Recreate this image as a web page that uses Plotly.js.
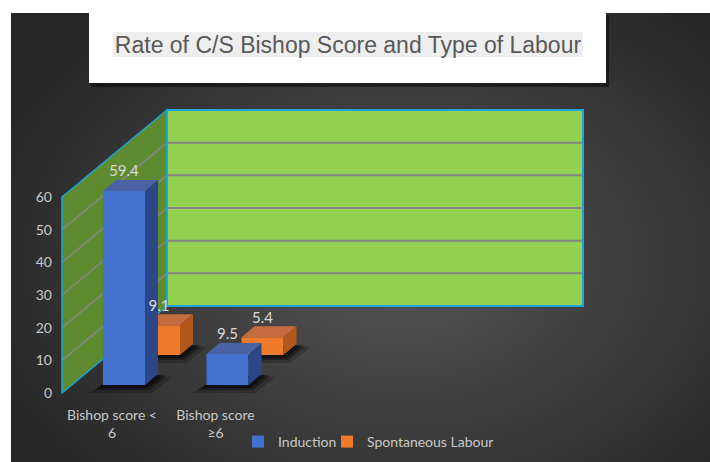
<!DOCTYPE html>
<html>
<head>
<meta charset="utf-8">
<script src="https://cdn.plot.ly/plotly-3.0.1.min.js"></script>
<style>
  html, body { margin: 0; padding: 0; background: #ffffff; }
  #wrap {
    width: 710px; height: 462px; position: relative;
    background-color: #ffffff;
    background-image: radial-gradient(ellipse 62% 70% at 56% 55%, #555555 0%, #3c3c3c 55%, #272727 100%);
    background-repeat: no-repeat;
    background-position: 11px 13px;
    background-size: 699px 449px;
  }
  #chart { width: 710px; height: 462px; }
</style>
</head>
<body>
<div id="wrap"><div id="chart"></div></div>
<script>
// ---------- data ----------
const categories = ['Bishop score <<br>6', 'Bishop score<br>≥6'];
const seriesNames = ['Induction', 'Spontaneous Labour'];
const induction = [59.4, 9.5];
const spontaneous = [9.1, 5.4];
const yTicks = [0, 10, 20, 30, 40, 50, 60];
const chartTitle = 'Rate of C/S Bishop Score and Type of Labour';

// ---------- geometry (pixel based x axis, value based y axis) ----------
const W = 710, H = 462, PLOT_BOTTOM = 400;
const K = 196 / 60;            // px per unit
const P0 = 393;                // pixel y of value 0 on the front plane
const v = p => (P0 - p) / K;   // pixel -> value units
const frontX = [124, 227.5];   // front-row bar centers
const ROW_DX = [0, 35];
const ROW_BASE = [v(385), v(355)];
const HW = 21, DDX = 13, DDY = 11 / K;
const WALL_X0 = 62, WALL_X1 = 167, WALL_X2 = 583, WALL_DY = 87 / K;
const YMAX_AXIS = 60;

const COLORS = {
  blue:   { front: '#4272cd', top: '#4b62a4', side: '#2c4787' },
  orange: { front: '#ee7b2b', top: '#c46c40', side: '#b2571c' }
};

function shadowTraces(vals, row) {
  const tr = [];
  const xs = frontX.map(x => x + ROW_DX[row]);
  const b = ROW_BASE[row];
  vals.forEach((val, i) => {
    const c = xs[i];
    [[14, 8, 'rgba(0,0,0,0.22)'], [9, 5, 'rgba(0,0,0,0.35)'], [5, 3, 'rgba(0,0,0,0.45)']].forEach(([ox, oy, fc]) => {
      const dy = oy / K;
      tr.push({
        type: 'scatter', mode: 'lines', xaxis: 'x', yaxis: 'y', hoverinfo: 'skip', showlegend: false,
        x: [c - HW - ox, c + HW + ox / 2, c + HW + DDX + ox, c - HW + DDX, c - HW - ox],
        y: [b - dy, b - dy, b + DDY - dy / 3, b + DDY - dy / 3, b - dy],
        fill: 'toself', fillcolor: fc, line: { width: 0 }
      });
    });
  });
  return tr;
}

function rowTraces(vals, row, col, name, legendId, xa, ya) {
  const tr = [];
  const xs = frontX.map(x => x + ROW_DX[row]);
  const b = ROW_BASE[row];
  tr.push({
    type: 'bar', name: name, legend: legendId, xaxis: xa, yaxis: ya,
    x: xs, y: vals, base: vals.map(() => b), width: vals.map(() => 2 * HW),
    marker: { color: col.front, line: { width: 0 } }, hoverinfo: 'skip'
  });
  vals.forEach((val, i) => {
    const c = xs[i], t = b + val;
    tr.push({
      type: 'scatter', mode: 'lines', xaxis: xa, yaxis: ya, hoverinfo: 'skip', showlegend: false,
      x: [c - HW, c + HW, c + HW + DDX, c - HW + DDX, c - HW],
      y: [t, t, t + DDY, t + DDY, t],
      fill: 'toself', fillcolor: col.top, line: { width: 0 }
    });
    tr.push({
      type: 'scatter', mode: 'lines', xaxis: xa, yaxis: ya, hoverinfo: 'skip', showlegend: false,
      x: [c + HW, c + HW + DDX, c + HW + DDX, c + HW, c + HW],
      y: [b, b + DDY, t + DDY, t, b],
      fill: 'toself', fillcolor: col.side, line: { width: 0 }
    });
  });
  return tr;
}

const traces = [];
traces.push(...shadowTraces(spontaneous, 1));
traces.push(...shadowTraces(induction, 0));
traces.push(...rowTraces(spontaneous, 1, COLORS.orange, seriesNames[1], 'legend2', 'x2', 'y2'));
traces.push(...rowTraces(induction, 0, COLORS.blue, seriesNames[0], 'legend', 'x3', 'y3'));
const labX = [], labY = [], labT = [];
[[induction, 0], [spontaneous, 1]].forEach(([vals, row]) => {
  vals.forEach((val, i) => {
    labX.push(frontX[i] + ROW_DX[row]);
    labY.push(ROW_BASE[row] + val + DDY);
    labT.push(val.toFixed(1));
  });
});
traces.push({
  type: 'scatter', mode: 'text', xaxis: 'x3', yaxis: 'y3', showlegend: false, hoverinfo: 'skip',
  x: labX, y: labY, text: labT, textposition: 'top center', cliponaxis: false,
  textfont: { family: 'Lato, sans-serif', size: 15, color: '#d9d9d9' }
});

// ---------- walls (decoration) ----------
const shapes = [];
const py = p => (PLOT_BOTTOM - p) / PLOT_BOTTOM;
shapes.push({ type: 'rect', xref: 'paper', yref: 'paper', layer: 'below',
  x0: 91 / W, x1: 609 / W, y0: py(87), y1: py(15), fillcolor: 'rgba(0,0,0,0.45)', line: { width: 0 } });
shapes.push({ type: 'rect', xref: 'paper', yref: 'paper', layer: 'below',
  x0: 89 / W, x1: 606 / W, y0: py(83), y1: py(13), fillcolor: '#ffffff', line: { width: 0 } });
shapes.push({ type: 'rect', xref: 'paper', yref: 'paper', layer: 'below',
  x0: 113 / W, x1: 583 / W, y0: py(57), y1: py(32), fillcolor: '#eeeeee', line: { width: 0 } });
shapes.push({ type: 'rect', xref: 'x', yref: 'y', layer: 'below',
  x0: WALL_X1, x1: WALL_X2, y0: WALL_DY, y1: WALL_DY + YMAX_AXIS, fillcolor: '#92d050', line: { width: 0 } });
shapes.push({ type: 'path', xref: 'x', yref: 'y', layer: 'below',
  path: `M ${WALL_X0},0 L ${WALL_X0},${YMAX_AXIS} L ${WALL_X1},${YMAX_AXIS + WALL_DY} L ${WALL_X1},${WALL_DY} Z`,
  fillcolor: '#5f8b30', line: { width: 0 } });
yTicks.filter(t => t > 0 && t < YMAX_AXIS).forEach(t => {
  shapes.push({ type: 'line', xref: 'x', yref: 'y', layer: 'below',
    x0: WALL_X1, x1: WALL_X2, y0: WALL_DY + t, y1: WALL_DY + t, line: { color: '#858585', width: 2 } });
  shapes.push({ type: 'line', xref: 'x', yref: 'y', layer: 'below',
    x0: WALL_X0, x1: WALL_X1, y0: t, y1: WALL_DY + t, line: { color: '#858585', width: 1.5 } });
});
shapes.push({ type: 'rect', xref: 'x', yref: 'y', layer: 'below',
  x0: WALL_X1, x1: WALL_X2, y0: WALL_DY, y1: WALL_DY + YMAX_AXIS, line: { color: '#1da7d8', width: 2 } });
shapes.push({ type: 'path', xref: 'x', yref: 'y', layer: 'below',
  path: `M ${WALL_X0},0 L ${WALL_X0},${YMAX_AXIS} L ${WALL_X1},${YMAX_AXIS + WALL_DY} L ${WALL_X1},${WALL_DY} Z`,
  line: { color: '#1da7d8', width: 1.5 } });

const yr = [v(PLOT_BOTTOM), v(0)];
const fontC = { family: 'Lato, sans-serif', size: 14, color: '#c8c8c8' };
const hiddenX = { range: [0, W], overlaying: 'x', visible: false, fixedrange: true };
const hiddenY = { range: yr, overlaying: 'y', visible: false, fixedrange: true };
const legY = (PLOT_BOTTOM - 442) / PLOT_BOTTOM;
const legBase = { orientation: 'h', xanchor: 'left', y: legY, yanchor: 'middle',
  font: fontC, bgcolor: 'rgba(0,0,0,0)', itemwidth: 30 };
const layout = {
  width: W, height: H,
  margin: { l: 0, r: 0, t: 0, b: H - PLOT_BOTTOM },
  paper_bgcolor: 'rgba(0,0,0,0)', plot_bgcolor: 'rgba(0,0,0,0)',
  barmode: 'overlay',
  title: { text: chartTitle, x: 348 / W, xanchor: 'center', yref: 'container', y: 1 - 45 / H, yanchor: 'middle',
    font: { family: 'Liberation Sans, Arial, sans-serif', size: 23, color: '#595959' } },
  xaxis: { range: [0, W], showgrid: false, zeroline: false, showline: false, ticks: '',
    tickmode: 'array', tickvals: frontX.map(x => x - 12), ticktext: categories, tickfont: fontC,
    ticklabelstandoff: 5, fixedrange: true },
  yaxis: { range: yr, showgrid: false, zeroline: false, showline: false, ticks: '',
    tickmode: 'array', tickvals: yTicks, ticktext: yTicks.map(String), tickfont: fontC,
    anchor: 'free', position: WALL_X0 / W, ticklabelstandoff: 10, fixedrange: true },
  xaxis2: Object.assign({}, hiddenX), yaxis2: Object.assign({}, hiddenY),
  xaxis3: Object.assign({}, hiddenX), yaxis3: Object.assign({}, hiddenY),
  showlegend: true,
  legend: Object.assign({}, legBase, { x: 238 / W }),
  legend2: Object.assign({}, legBase, { x: 327 / W }),
  shapes: shapes
};

Plotly.newPlot('chart', traces, layout, { displayModeBar: false, staticPlot: true });
</script>
</body>
</html>
